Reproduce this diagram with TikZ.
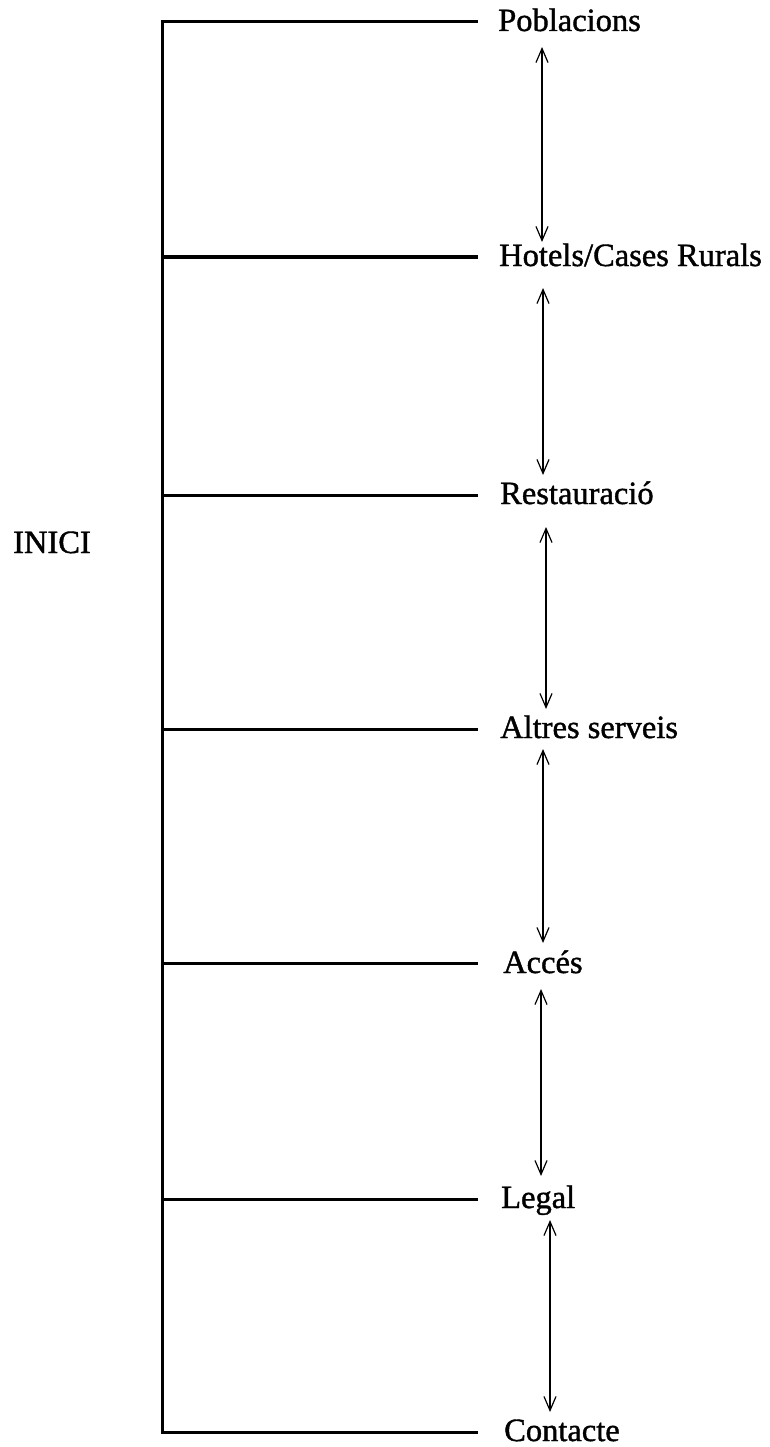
\documentclass[tikz,border=0pt]{standalone}
\usepackage{fontspec}
\setmainfont{Liberation Serif}
\newfontfamily\lblfont[FakeBold=1.2]{Liberation Serif}
\usetikzlibrary{arrows.meta}
\tikzset{
  lbl/.style={anchor=base west, inner sep=0pt, font=\lblfont\fontsize{32.5}{36}\selectfont},
  branch/.style={line width=3pt, line cap=rect},
  link/.style={line width=1.4pt, {Straight Barb[length=14pt,width=12pt,line width=1.2pt]}-{Straight Barb[length=14pt,width=12pt,line width=1.2pt]}}
}
\begin{document}
\begin{tikzpicture}[x=1pt,y=-1pt]
\useasboundingbox (0,0) rectangle (769,1447);
% labels
\node[lbl] (inici) at (13,553) {INICI};
\node[lbl] (p1) at (498,31) {Poblacions};
\node[lbl] (p2) at (499,266) {Hotels/Cases Rurals};
\node[lbl] (p3) at (500,504) {Restauració};
\node[lbl] (p4) at (500,738) {Altres serveis};
\node[lbl] (p5) at (503,973) {Accés};
\node[lbl] (p6) at (501,1208) {Legal};
\node[lbl] (p7) at (504,1441) {Contacte};
% spine and branches
\coordinate (s1) at (162,22);
\coordinate (s2) at (162,257);
\coordinate (s3) at (162,495);
\coordinate (s4) at (162,729);
\coordinate (s5) at (162,963);
\coordinate (s6) at (162,1199);
\coordinate (s7) at (162,1432);
\coordinate (e1) at (476,22);
\coordinate (e2) at (476,257);
\coordinate (e3) at (476,495);
\coordinate (e4) at (476,729);
\coordinate (e5) at (476,963);
\coordinate (e6) at (476,1199);
\coordinate (e7) at (476,1432);
\draw[branch] (e1) -- (s1) -- (s7) -- (e7);
\draw[branch] (s2) -- (e2);
\draw[branch] (s3) -- (e3);
\draw[branch] (s4) -- (e4);
\draw[branch] (s5) -- (e5);
\draw[branch] (s6) -- (e6);
% arrows
\coordinate (a1t) at (542,47);   \coordinate (a1b) at (542,242);
\coordinate (a2t) at (543,288);  \coordinate (a2b) at (543,475);
\coordinate (a3t) at (546,527);  \coordinate (a3b) at (546,709);
\coordinate (a4t) at (543,749);  \coordinate (a4b) at (543,943);
\coordinate (a5t) at (541,989);  \coordinate (a5b) at (541,1176);
\coordinate (a6t) at (550,1220); \coordinate (a6b) at (550,1412);
\draw[link] (a1t) -- (a1b);
\draw[link] (a2t) -- (a2b);
\draw[link] (a3t) -- (a3b);
\draw[link] (a4t) -- (a4b);
\draw[link] (a5t) -- (a5b);
\draw[link] (a6t) -- (a6b);
\end{tikzpicture}
\end{document}
